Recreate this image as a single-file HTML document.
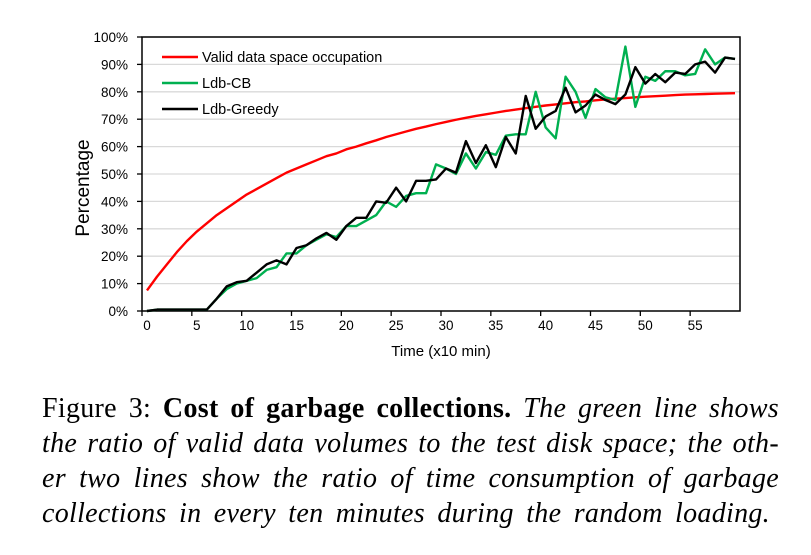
<!DOCTYPE html>
<html><head><meta charset="utf-8"><style>
body{margin:0;background:#fff;width:811px;height:555px;overflow:hidden;position:relative}
.cap{position:absolute;left:42px;width:737px;font-family:"Liberation Serif",serif;font-size:28px;letter-spacing:0.3px;white-space:nowrap;color:#000;text-align:justify;text-align-last:justify}
</style></head><body>
<svg id="chart" width="811" height="370" style="position:absolute;left:0;top:0" font-family="Liberation Sans, sans-serif"></svg>
<div class="cap" style="top:393px">Figure 3: <b>Cost of garbage collections.</b> <i>The green line shows</i></div>
<div class="cap" style="top:428px"><i>the ratio of valid data volumes to the test disk space; the oth-</i></div>
<div class="cap" style="top:463px"><i>er two lines show the ratio of time consumption of garbage</i></div>
<div class="cap" style="top:498px;width:728px"><i>collections in every ten minutes during the random loading.</i></div>
<script>
const yTicks=[0,10,20,30,40,50,60,70,80,90,100];
const xTickLabels=[0,5,10,15,20,25,30,35,40,45,50,55];
const validSpace=[7.5,12.5,17,21.5,25.5,29,32,35,37.5,40,42.5,44.5,46.5,48.5,50.5,52,53.5,55,56.5,57.5,59,60,61.2,62.3,63.5,64.5,65.5,66.5,67.3,68.2,69,69.8,70.5,71.2,71.8,72.4,73,73.5,74,74.5,75,75.4,75.8,76.2,76.5,76.9,77.2,77.5,77.7,78,78.2,78.4,78.6,78.8,79,79.1,79.2,79.3,79.4,79.5];
const ldbCB=[0,0.5,0.5,0.5,0.5,0.5,0.5,4.5,8,10,11,12,15,16,21,21,24,26,28,27,31,31,33,35,40,38,42,43,43,53.5,52,50,57.5,52,58,57,64,64.5,64.5,80,67,63,85.5,80,70.5,81,78,77,96.5,74.5,85.5,84,87.5,87.5,86,86.5,95.5,90,92.5,92];
const ldbGreedy=[0,0.5,0.5,0.5,0.5,0.5,0.5,4.5,9,10.5,11,14,17,18.5,17,23,24,26.5,28.5,26,31,34,34,40,39.5,45,40,47.5,47.5,48,52,50.5,62,54,60.5,52.5,63.5,57.5,78.5,66.5,71,73,81.5,72.5,75,79,77,75.5,79,89,83,86.5,83.5,87,86.5,90,91,87,92.5,92];
const NS="http://www.w3.org/2000/svg";
const svg=document.getElementById('chart');
const L=142,R=740,T=37,B=311,N=60,cw=(R-L)/N;
const xs=i=>L+(i+0.5)*cw;
const ys=v=>B-(v/100)*(B-T);
function mk(tag,attrs){const e=document.createElementNS(NS,tag);for(const k in attrs)e.setAttribute(k,attrs[k]);svg.appendChild(e);return e;}
yTicks.forEach(v=>{
  if(v>0){const g=mk('line',{x1:L,x2:R,y1:ys(v),y2:ys(v),stroke:'#d9d9d9','stroke-width':1.3});
  
  }
  const tk=mk('line',{x1:L-5,x2:L,y1:ys(v),y2:ys(v),stroke:'#000','stroke-width':1.3});
  
  
  const t=mk('text',{x:L-14,y:ys(v)+5,'text-anchor':'end','font-size':13.5});
  t.textContent=v+'%';
  
  
});
const box=mk('rect',{x:L,y:T,width:R-L,height:B-T,fill:'none',stroke:'#000','stroke-width':1.5});


xTickLabels.forEach(v=>{
  const bx=L+v*cw;
  const tk=mk('line',{x1:bx,x2:bx,y1:B,y2:B+5,stroke:'#000','stroke-width':1.3});
  
  
  const t=mk('text',{x:xs(v),y:B+19,'text-anchor':'middle','font-size':13.5});
  t.textContent=v;
  
  
});
function series(arr,color,name){
  const p=mk('polyline',{points:arr.map((v,i)=>xs(i)+','+ys(v)).join(' '),fill:'none',stroke:color,'stroke-width':2.4,'stroke-linejoin':'round'});
  
  
}
series(validSpace,'#ff0000','valid-space-line');
series(ldbCB,'#00b050','ldb-cb-line');
series(ldbGreedy,'#000000','ldb-greedy-line');
const leg=[['Valid data space occupation','#ff0000'],['Ldb-CB','#00b050'],['Ldb-Greedy','#000']];
leg.forEach((l,i)=>{
  const y=57+i*26;
  const ln=mk('line',{x1:162,x2:198,y1:y,y2:y,stroke:l[1],'stroke-width':2.4});
  
  
  const t=mk('text',{x:202,y:y+5,'font-size':14.5});
  t.textContent=l[0];
  
  
});
const xt=mk('text',{x:441,y:356,'text-anchor':'middle','font-size':15});
xt.textContent='Time (x10 min)';


const yt=mk('text',{x:0,y:0,'text-anchor':'middle','font-size':19,transform:'translate(89,188) rotate(-90)'});
yt.textContent='Percentage';


</script>
</body></html>
